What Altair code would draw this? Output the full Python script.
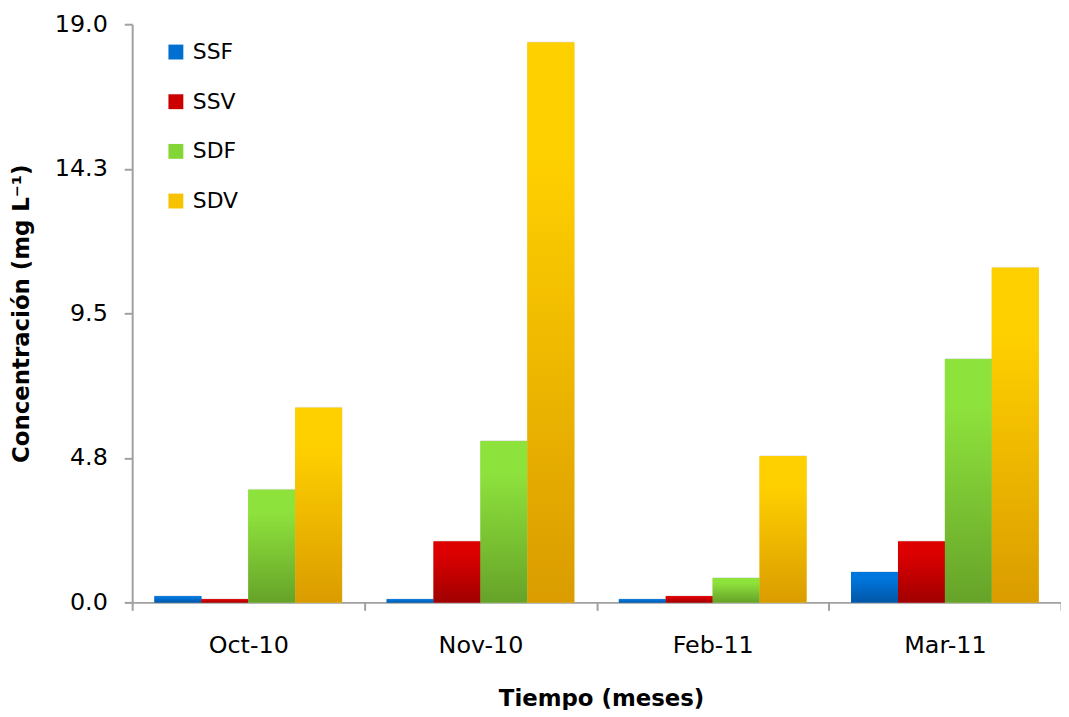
import altair as alt
import pandas as pd

months = ["Oct-10", "Nov-10", "Feb-11", "Mar-11"]
series = ["SSF", "SSV", "SDF", "SDV"]
ssf = [0.2, 0.1, 0.1, 1.0]
ssv = [0.1, 2.0, 0.2, 2.0]
sdf = [3.7, 5.3, 0.8, 8.0]
sdv = [6.4, 18.4, 4.8, 11.0]
y_ticks = [0, 4.75, 9.5, 14.25, 19]

top_colors = ["#0077DE", "#DC0000", "#8EE23C", "#FFD000"]
bottom_colors = ["#0056A6", "#A00000", "#66A329", "#DA9C00"]
legend_colors = ["#006FD0", "#CC0000", "#84D636", "#F7C300"]

values = {"SSF": ssf, "SSV": ssv, "SDF": sdf, "SDV": sdv}
rows = []
for s in series:
    for i, m in enumerate(months):
        rows.append({"mes": m, "serie": s, "valor": values[s][i]})
df = pd.DataFrame(rows)

FONT = "DejaVu Sans"
AXIS_GRAY = "#A0A0A0"

x = alt.X(
    "mes:N",
    sort=months,
    scale=alt.Scale(paddingInner=0, paddingOuter=0),
    axis=alt.Axis(
        title="Tiempo (meses)",
        labelAngle=0,
        tickBand="extent",
        domainColor=AXIS_GRAY,
        domainWidth=2,
        tickColor=AXIS_GRAY,
        tickWidth=2,
        tickSize=8,
        labelFont=FONT,
        labelFontSize=24,
        labelColor="#000000",
        labelBaseline="middle",
        labelPadding=35,
        titleFont=FONT,
        titleFontSize=23,
        titleFontWeight="bold",
        titleColor="#000000",
        titleY=104,
        titleX=472,
        titleBaseline="alphabetic",
    ),
)
xo = alt.XOffset(
    "serie:N",
    sort=series,
    scale=alt.Scale(domain=series, paddingInner=0, paddingOuter=0.475),
)
y = alt.Y(
    "valor:Q",
    scale=alt.Scale(domain=[0, 19], nice=False, zero=True),
    axis=alt.Axis(
        values=y_ticks,
        format=".1f",
        title="Concentración (mg L⁻¹)",
        grid=False,
        domainColor=AXIS_GRAY,
        domainWidth=2,
        tickColor=AXIS_GRAY,
        tickWidth=2,
        tickSize=8,
        labelFont=FONT,
        labelFontSize=24,
        labelColor="#000000",
        labelPadding=17,
        titleFont=FONT,
        titleFontSize=23,
        titleFontWeight="bold",
        titleColor="#000000",
        titleX=-111,
        titleBaseline="middle",
    ),
)

shadow = alt.Chart(df).mark_bar(
    fill="#000000", fillOpacity=0.09, strokeWidth=0, xOffset=3, yOffset=-1
).encode(x=x, xOffset=xo, y=y)

base = alt.Chart(df).mark_bar(strokeWidth=0).encode(
    x=x,
    xOffset=xo,
    y=y,
    fill=alt.Fill(
        "serie:N",
        sort=series,
        scale=alt.Scale(domain=series, range=legend_colors),
        legend=alt.Legend(
            title=None,
            orient="none",
            legendX=33,
            legendY=17,
            symbolType="square",
            symbolSize=225,
            symbolStrokeWidth=0,
            labelFont=FONT,
            labelFontSize=22,
            labelColor="#000000",
            labelOffset=6,
            rowPadding=28,
        ),
    ),
)

layers = [shadow, base]
for s, t, b in zip(series, top_colors, bottom_colors):
    grad = {
        "gradient": "linear",
        "x1": 0, "y1": 0, "x2": 0, "y2": 1,
        "stops": [
            {"offset": 0, "color": t},
            {"offset": 0.2, "color": t},
            {"offset": 1, "color": b},
        ],
    }
    layers.append(
        alt.Chart(df)
        .transform_filter(alt.datum.serie == s)
        .mark_bar(fill=grad, strokeWidth=0)
        .encode(x=x, xOffset=xo, y=y)
    )

chart = (
    alt.layer(*layers)
    .properties(
        width=935,
        height=582,
        autosize=alt.AutoSizeParams(type="none"),
        padding={"left": 125, "top": 14, "right": 0, "bottom": 106},
        background="#FFFFFF",
    )
    .configure_view(stroke=None)
)

chart.save("out.html", embed_options={"renderer": "svg", "actions": False})
